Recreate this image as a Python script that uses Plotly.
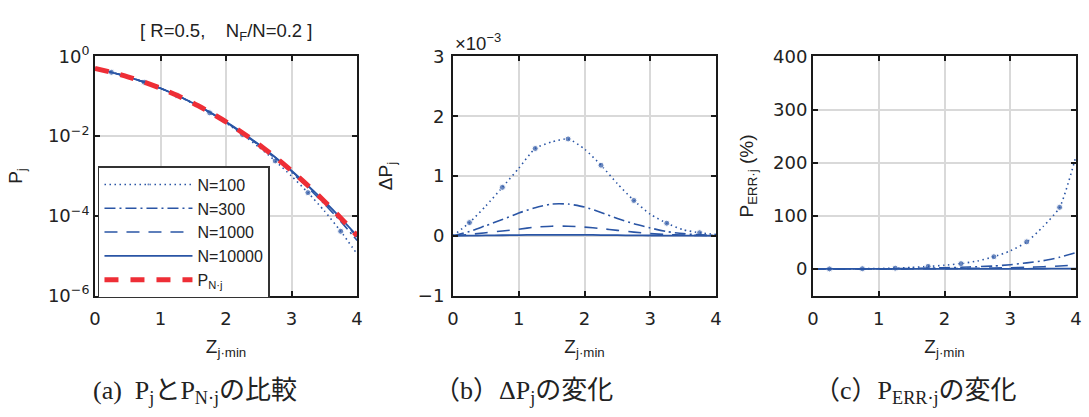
import plotly.graph_objects as go

W, H = 1089, 417

# ---------------- data ----------------
z = [0, 0.25, 0.5, 0.75, 1.0, 1.25, 1.5, 1.75, 2.0, 2.25, 2.5, 2.75, 3.0, 3.25, 3.5, 3.75, 4.0]
n_labels = ["N=100", "N=300", "N=1000", "N=10000"]

# (a) P_j and P_N.j
p_n = [0.5, 0.401, 0.309, 0.227, 0.159, 0.106, 0.0668, 0.0401, 0.0228, 0.0122, 0.00621,
       0.00298, 0.00135, 0.000577, 0.000233, 0.0000884, 0.0000317]
pj_100 = [0.5, 0.4008, 0.3085, 0.2262, 0.1579, 0.1045, 0.0652, 0.0385, 0.0214, 0.0110, 0.00534,
          0.00239, 0.00099, 0.000382, 0.000133, 0.0000410, 0.0000110]
pj_300 = [0.5, 0.4009, 0.3088, 0.2267, 0.1586, 0.1055, 0.0663, 0.0396, 0.0223, 0.0118, 0.00592,
          0.00278, 0.00123, 0.000510, 0.000200, 0.0000725, 0.0000242]
pj_1000 = [0.5, 0.4010, 0.3089, 0.2269, 0.1589, 0.1059, 0.0666, 0.0399, 0.0226, 0.0121, 0.00612,
           0.00292, 0.00132, 0.000560, 0.000224, 0.0000837, 0.0000295]
pj_10000 = [0.5, 0.4010, 0.3090, 0.2270, 0.1590, 0.1060, 0.0668, 0.0401, 0.0228, 0.0122, 0.00620,
            0.00298, 0.00135, 0.000575, 0.000232, 0.0000879, 0.0000315]

# (b) Delta P_j  (x 10^-3)
dp_100 = [0, 0.22, 0.50, 0.81, 1.13, 1.46, 1.57, 1.62, 1.45, 1.18, 0.87, 0.59, 0.36, 0.21, 0.10, 0.05, 0.02]
dp_300 = [0, 0.07, 0.17, 0.27, 0.38, 0.47, 0.53, 0.53, 0.48, 0.39, 0.29, 0.20, 0.13, 0.07, 0.035, 0.015, 0.007]
dp_1000 = [0, 0.022, 0.05, 0.08, 0.11, 0.145, 0.16, 0.16, 0.145, 0.12, 0.09, 0.06, 0.036, 0.02, 0.01, 0.005, 0.002]
dp_10000 = [0, 0.002, 0.005, 0.008, 0.011, 0.015, 0.016, 0.016, 0.015, 0.012, 0.009, 0.006, 0.004, 0.002, 0.001, 0.0005, 0.0002]

# (c) P_ERR.j (%)
err_100 = [0, 0.1, 0.2, 0.4, 0.8, 1.5, 2.8, 4.8, 7.0, 10, 15, 23, 34, 51, 80, 116, 213]
err_300 = [0, 0.03, 0.07, 0.13, 0.27, 0.5, 0.9, 1.5, 2.2, 3.1, 4.3, 5.5, 8, 11.5, 15.5, 22, 31]
err_1000 = [0, 0.01, 0.02, 0.04, 0.08, 0.15, 0.27, 0.45, 0.66, 0.93, 1.3, 1.75, 2.3, 3.1, 4.1, 5.6, 7.6]
err_10000 = [0, 0.001, 0.002, 0.004, 0.008, 0.015, 0.027, 0.045, 0.066, 0.093, 0.13, 0.175, 0.23, 0.31, 0.41, 0.56, 0.76]

x_ticks = [0, 1, 2, 3, 4]

# ---------------- styles ----------------
BLUE = "#2a55a5"
RED = "#ee2e36"
TXT = "#222222"
FONT = "Liberation Sans, Arial, sans-serif"
TICK_FONT = "DejaVu Sans, sans-serif"
CAP_FONT = "Liberation Serif, Noto Sans CJK JP, serif"
styles = [
    dict(dash="1.5px,3.5px", width=1.6),
    dict(dash="11px,4px,2px,4px", width=1.6),
    dict(dash="13px,9px", width=1.6),
    dict(dash="solid", width=1.8),
]
marker_sizes = [6 if i % 2 == 1 else 0 for i in range(len(z))]

fig = go.Figure()

def add_series(series, xa, ya, show):
    for k, (ys, st) in enumerate(zip(series, styles)):
        tr = dict(x=z, y=ys, xaxis=xa, yaxis=ya, name=n_labels[k], showlegend=show,
                  line=dict(color=BLUE, width=st["width"], dash=st["dash"], shape="spline", smoothing=0.6))
        if k == 0:
            tr["mode"] = "lines+markers"
            tr["marker"] = dict(color=BLUE, size=marker_sizes)
        else:
            tr["mode"] = "lines"
        fig.add_trace(go.Scatter(**tr))

add_series([pj_100, pj_300, pj_1000, pj_10000], "x", "y", True)
fig.add_trace(go.Scatter(x=z, y=p_n, xaxis="x", yaxis="y", mode="lines", name="P<sub>N·j</sub>",
                         line=dict(color=RED, width=5, dash="14px,12px", shape="spline", smoothing=0.6)))
add_series([dp_100, dp_300, dp_1000, dp_10000], "x2", "y2", False)
add_series([err_100, err_300, err_1000, err_10000], "x3", "y3", False)

def px(x):
    return x / W

def py(y):
    return 1 - y / H

axis_common = dict(showline=True, linecolor="#1a1a1a", linewidth=2, mirror="allticks",
                   ticks="inside", ticklen=5, tickwidth=1.5, tickcolor="#1a1a1a",
                   showgrid=True, gridcolor="#d9d9d9", gridwidth=1.5, zeroline=False,
                   tickfont=dict(family=TICK_FONT, size=18, color=TXT))

panels = [(90, 355), (452, 718), (816, 1082)]
ydom = [py(299), py(46)]
xtitle = dict(text="Z<sub>j·min</sub>", font=dict(family=FONT, size=19, color=TXT), standoff=12)

layout = dict(width=W, height=H, margin=dict(l=0, r=0, t=0, b=0),
              paper_bgcolor="white", plot_bgcolor="white", showlegend=True)
for i, (x0, x1) in enumerate(panels):
    sfx = "" if i == 0 else str(i + 1)
    layout["xaxis" + sfx] = dict(axis_common, domain=[px(x0), px(x1)], range=[0, 4],
                                 tickvals=x_ticks, anchor="y" + sfx, title=xtitle, ticklabelstandoff=6)
layout["yaxis"] = dict(axis_common, domain=ydom, type="log", range=[-6, 0], anchor="x",
                       tickvals=[1, 1e-2, 1e-4, 1e-6],
                       ticktext=["10<sup>0</sup>", "10<sup>−2</sup>", "10<sup>−4</sup>", "10<sup>−6</sup>"],
                       title=dict(text="P<sub>j</sub>", font=dict(family=FONT, size=19, color=TXT), standoff=20))
layout["yaxis2"] = dict(axis_common, domain=ydom, range=[-1, 3], tickvals=[-1, 0, 1, 2, 3], anchor="x2",
                        ticklabelstandoff=3,
                        title=dict(text="ΔP<sub>j</sub>", font=dict(family=FONT, size=19, color=TXT), standoff=20))
layout["yaxis3"] = dict(axis_common, domain=ydom, range=[-50, 400], tickvals=[0, 100, 200, 300, 400], anchor="x3",
                        title=dict(text="P<sub>ERR·j</sub> (%)", font=dict(family=FONT, size=19, color=TXT), standoff=14))
layout["legend"] = dict(x=px(93), y=py(162), xanchor="left", yanchor="top", bgcolor="white",
                        bordercolor="#333", borderwidth=1.5, itemwidth=88, tracegroupgap=0,
                        font=dict(family=FONT, size=16, color=TXT))
fig.update_layout(**layout)

ann = [
    dict(x=px(222), y=py(20), text="[ R=0.5,    N<sub>F</sub>/N=0.2 ]", font=dict(family=FONT, size=18.5, color=TXT)),
    dict(x=px(452), y=py(45), xanchor="left", yanchor="bottom", text="×10<sup>−3</sup>",
         font=dict(family=FONT, size=18.5, color=TXT)),
    dict(x=px(191), y=py(401), text="(a)  P<sub>j</sub>とP<sub>N·j</sub>の比較", font=dict(family=CAP_FONT, size=26, color=TXT)),
    dict(x=px(523), y=py(401), text="（b）ΔP<sub>j</sub>の変化", font=dict(family=CAP_FONT, size=26, color=TXT)),
    dict(x=px(920), y=py(401), text="（c）P<sub>ERR·j</sub>の変化", font=dict(family=CAP_FONT, size=26, color=TXT)),
]
for a in ann:
    a.setdefault("xanchor", "center")
    a.setdefault("yanchor", "middle")
    fig.add_annotation(xref="paper", yref="paper", showarrow=False, **a)

fig.write_html("out.html")
